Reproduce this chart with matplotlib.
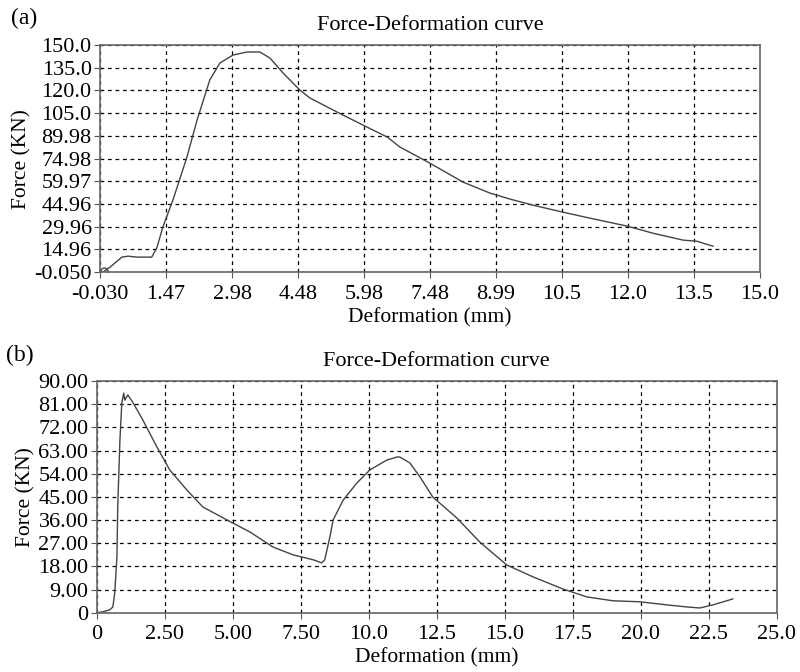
import matplotlib
matplotlib.use('Agg')
import matplotlib.pyplot as plt
import numpy as np

plt.rcParams['font.family'] = ['Liberation Serif', 'DejaVu Serif']

# panel (a) force-deformation data
def_a = [-0.03, 0.04, 0.20, 0.47, 0.61, 0.81, 1.15, 1.27, 1.40, 1.63, 1.95, 2.18, 2.47,
         2.70, 3.00, 3.32, 3.61, 3.84, 4.14, 4.52, 4.75, 5.37, 6.05, 6.51, 6.80, 7.48,
         8.24, 8.85, 9.31, 9.83, 10.51, 11.13, 11.97, 12.56, 13.25, 13.56, 13.93]
force_a = [-0.05, 0.0, 3.3, 9.9, 10.5, 9.9, 9.9, 16.5, 29.7, 47.5, 76.0, 100.4, 126.9,
           138.1, 143.4, 145.4, 145.4, 141.4, 131.5, 120.3, 115.0, 105.7, 95.8, 89.2, 82.6, 72.0,
           59.4, 52.2, 48.2, 44.2, 39.6, 35.6, 30.4, 25.7, 21.1, 20.4, 17.1]
xt_a = ['-0.030', '1.47', '2.98', '4.48', '5.98', '7.48', '8.99', '10.5', '12.0', '13.5', '15.0']
yt_a = ['-0.050', '14.96', '29.96', '44.96', '59.97', '74.98', '89.98', '105.0', '120.0', '135.0', '150.0']

# panel (b)
def_b = [0, 0.22, 0.48, 0.59, 0.66, 0.74, 0.77, 0.85, 0.92, 0.99, 1.03, 1.14, 1.32, 1.69,
         2.21, 2.68, 3.31, 3.90, 4.78, 5.63, 6.47, 7.22, 7.96, 8.27, 8.38, 8.57, 8.69, 9.06,
         9.56, 10.04, 10.66, 11.03, 11.14, 11.51, 11.88, 12.35, 13.24, 14.08, 15.07, 16.03,
         17.13, 18.01, 18.97, 19.96, 20.96, 21.69, 22.17, 22.65, 23.38]
force_b = [0, 0.4, 1.2, 2.3, 7.8, 21.7, 41.1, 67.1, 81.5, 85.3, 82.6, 84.6, 81.8, 74.9,
           64.4, 55.5, 47.7, 41.1, 36.1, 31.4, 25.6, 22.5, 20.6, 19.4, 20.6, 29.5, 36.1, 43.8,
           50.4, 55.5, 59.3, 60.5, 60.5, 58.2, 52.8, 45.0, 36.8, 27.5, 18.6, 14.0,
           9.3, 6.2, 4.7, 4.3, 3.1, 2.3, 1.9, 3.1, 5.4]
xt_b = ['0', '2.50', '5.00', '7.50', '10.0', '12.5', '15.0', '17.5', '20.0', '22.5', '25.0']
yt_b = ['0', '9.00', '18.00', '27.00', '36.00', '45.00', '54.00', '63.00', '72.00', '81.00', '90.00']

fig = plt.figure(figsize=(8, 6.72), dpi=100)
ax1 = fig.add_axes([0.125, 0.595, 0.825, 0.338])
ax2 = fig.add_axes([0.121, 0.088, 0.85, 0.345])


def style(ax, xlim, ylim, xt, yt):
    ax.set_xlim(xlim)
    ax.set_ylim(ylim)
    ax.set_xticks(np.linspace(xlim[0], xlim[1], 11))
    ax.set_yticks(np.linspace(ylim[0], ylim[1], 11))
    ax.set_xticklabels(xt)
    ax.set_yticklabels(yt)
    ax.tick_params(labelsize=16, length=4, color='#555555', pad=2)
    ax.tick_params(axis='x', pad=5)
    ax.grid(True, color='black', linestyle=(0, (3, 3)), linewidth=0.9)
    for s in ax.spines.values():
        s.set_color('#666666')
        s.set_linewidth(1.2)
    ax.set_title('Force-Deformation curve', fontsize=16, pad=11)
    ax.set_xlabel('Deformation (mm)', fontsize=15.5, labelpad=3)
    ax.set_ylabel('Force (KN)', fontsize=15.5, labelpad=2)


ax1.plot(def_a, force_a, color='#444444', linewidth=1.0)
ax1.plot(def_a[0] + 0.1, force_a[0] + 1, 'o', markerfacecolor='none', markeredgecolor='#444444', markersize=5)
style(ax1, (-0.03, 15.0), (-0.05, 150.0), xt_a, yt_a)

ax2.plot(def_b, force_b, color='#444444', linewidth=1.0)
style(ax2, (0, 25.0), (0, 90.0), xt_b, yt_b)

fig.text(0.014, 1 - 8 / 672, '(a)', fontsize=17, ha='left', va='top')
fig.text(0.008, 1 - 345 / 672, '(b)', fontsize=17, ha='left', va='top')

fig.savefig('out.png', dpi=100)
